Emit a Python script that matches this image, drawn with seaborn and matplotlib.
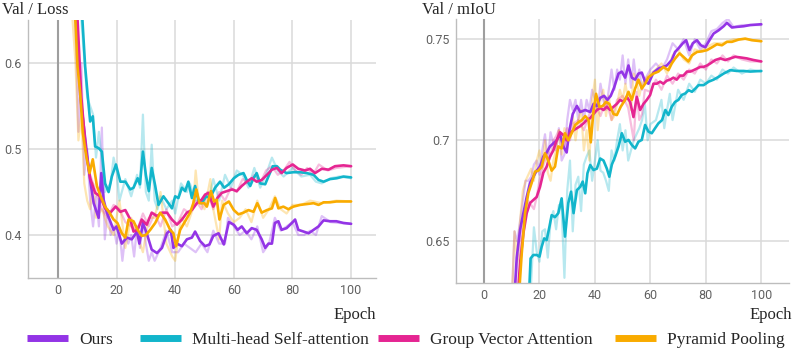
import matplotlib
matplotlib.use("Agg")
import matplotlib.pyplot as plt
from matplotlib.lines import Line2D
from matplotlib.ticker import FuncFormatter
import pandas as pd
import seaborn as sns

# 범례/시리즈 이름과 색상 (TensorBoard 기본 팔레트)
models = ["Ours", "Multi-head Self-attention", "Group Vector Attention", "Pyramid Pooling"]
colors = ["#9334e6", "#12b5cb", "#e52592", "#f9ab00"]

# ---- Val / Loss : smoothed (epoch, value) ----
loss_ours = [(5.5, 0.70), (6.7, 0.628), (7.6, 0.563), (9.9, 0.495), (11, 0.464), (12.2, 0.437), (13.9, 0.42),
             (14.8, 0.472), (15.6, 0.441), (16.7, 0.426), (19, 0.406), (20, 0.41), (21.8, 0.39), (23.5, 0.397),
             (25.2, 0.395), (27, 0.404), (27.8, 0.39), (29, 0.414), (30.3, 0.402), (32, 0.383), (33.8, 0.379),
             (35.5, 0.385), (37.2, 0.402), (38.5, 0.406), (39.4, 0.385), (40.6, 0.39), (42.3, 0.387), (44, 0.395),
             (45.7, 0.397), (46.8, 0.404), (48.5, 0.393), (50.2, 0.387), (51.7, 0.389), (53, 0.399), (54.8, 0.402),
             (56.6, 0.389), (58.3, 0.415), (60, 0.412), (61.3, 0.406), (62.7, 0.41), (64.4, 0.402), (66.1, 0.408),
             (67.8, 0.406), (69.5, 0.395), (70.7, 0.385), (71.8, 0.39), (73, 0.39), (74, 0.414), (75.2, 0.416),
             (76.3, 0.406), (78, 0.408), (79.8, 0.414), (80.9, 0.418), (82, 0.406), (83.8, 0.404), (85.5, 0.402),
             (87.2, 0.406), (88.9, 0.41), (90.6, 0.417), (92.8, 0.416), (95, 0.416), (97.4, 0.414), (100, 0.413)]
loss_mhsa = [(7.5, 0.70), (9.3, 0.596), (10.1, 0.565), (11, 0.532), (11.9, 0.538), (12.7, 0.503), (13.9, 0.501),
             (15, 0.497), (16.1, 0.46), (17.3, 0.45), (18.4, 0.468), (19.8, 0.482), (21.3, 0.462), (23, 0.462),
             (24.7, 0.453), (25.8, 0.455), (27.2, 0.466), (28, 0.459), (29, 0.497), (30, 0.47), (31, 0.451),
             (32, 0.478), (33.2, 0.457), (34.3, 0.435), (36, 0.445), (37.7, 0.437), (38.9, 0.431), (40, 0.445),
             (41.1, 0.443), (42.3, 0.455), (43.4, 0.451), (44.5, 0.462), (45.7, 0.443), (46.8, 0.457), (48, 0.439),
             (49, 0.437), (50.6, 0.445), (51.9, 0.443), (53.6, 0.455), (55.3, 0.462), (56.7, 0.455), (58.3, 0.459),
             (60, 0.466), (61.6, 0.47), (63.3, 0.472), (64.4, 0.464), (65.6, 0.457), (66.7, 0.466), (67.8, 0.472),
             (69, 0.46), (70.7, 0.459), (71.8, 0.468), (73.3, 0.48), (74.7, 0.48), (75.8, 0.476), (78, 0.472),
             (80.3, 0.473), (82.6, 0.473), (84.9, 0.472), (87.2, 0.47), (88.9, 0.464), (90.6, 0.462), (92.8, 0.465),
             (95.1, 0.466), (97.4, 0.468), (100, 0.467)]
loss_gva = [(6, 0.70), (8, 0.56), (9.5, 0.50), (11, 0.466), (12.7, 0.449), (14.4, 0.445), (16.1, 0.431),
            (17.9, 0.426), (19.7, 0.433), (21.3, 0.427), (23, 0.429), (24.7, 0.418), (25.8, 0.404), (27.2, 0.406),
            (28.6, 0.418), (30.3, 0.412), (32, 0.426), (33.8, 0.422), (35.5, 0.426), (37.2, 0.426), (38.9, 0.418),
            (40.6, 0.412), (42.3, 0.418), (44, 0.426), (45.7, 0.429), (47.4, 0.437), (49, 0.441), (50.2, 0.447),
            (51.4, 0.449), (53, 0.433), (54.4, 0.443), (55.9, 0.449), (57.6, 0.451), (59.4, 0.453), (61, 0.451),
            (62.7, 0.457), (64.4, 0.462), (66.1, 0.466), (67.8, 0.462), (69.5, 0.464), (71.3, 0.47), (73, 0.476),
            (74.7, 0.478), (76.3, 0.472), (78, 0.478), (80.1, 0.482), (82, 0.477), (84.3, 0.475), (86, 0.477),
            (87.7, 0.472), (90, 0.477), (92.3, 0.476), (94.5, 0.48), (97.4, 0.481), (100, 0.48)]
loss_pp = [(5, 0.72), (6.7, 0.596), (7.6, 0.565), (8.5, 0.519), (9.7, 0.491), (10.8, 0.472), (11.9, 0.488),
           (13.3, 0.457), (14.6, 0.445), (16.1, 0.433), (17.6, 0.426), (19, 0.418), (20.3, 0.414), (21.8, 0.402),
           (23, 0.397), (24.1, 0.418), (25.8, 0.416), (27.2, 0.406), (28.6, 0.399), (30, 0.4), (31.5, 0.406),
           (33.2, 0.414), (34.9, 0.426), (36.6, 0.418), (38.3, 0.406), (39.4, 0.402), (40.3, 0.387), (41.7, 0.406),
           (43.4, 0.416), (45.1, 0.426), (46.2, 0.437), (47.2, 0.453), (48.3, 0.437), (49.9, 0.437), (50.8, 0.433),
           (52.2, 0.451), (53.3, 0.439), (54.2, 0.441), (55.1, 0.418), (56.5, 0.435), (58.3, 0.439), (60, 0.429),
           (61.6, 0.424), (63.3, 0.426), (65, 0.429), (66.7, 0.427), (68, 0.437), (69.5, 0.426), (71.3, 0.429),
           (73, 0.431), (74.1, 0.443), (75.2, 0.431), (76.9, 0.433), (78.6, 0.43), (80.3, 0.433), (82.6, 0.435),
           (84.9, 0.436), (87.2, 0.437), (88.9, 0.435), (90.6, 0.438), (92.8, 0.438), (95, 0.439), (97.4, 0.439),
           (100, 0.439)]

# ---- Val / Loss : raw (연한 선) ----
loss_ours_raw = [(5, 0.70), (6, 0.64), (7, 0.52), (8, 0.6), (9, 0.47), (10, 0.5), (11, 0.44), (12, 0.41), (13, 0.445),
                 (14, 0.41), (15, 0.525), (16, 0.395), (17, 0.43), (18, 0.4), (19, 0.41), (20, 0.39), (21, 0.405),
                 (22, 0.37), (23, 0.4), (24, 0.39), (25, 0.4), (26, 0.375), (27, 0.41), (28, 0.385), (29, 0.415),
                 (30, 0.39), (31, 0.37), (32, 0.38), (33, 0.37), (35, 0.385), (37, 0.405), (39, 0.38), (41, 0.38),
                 (43, 0.39), (45, 0.385), (47, 0.38), (49, 0.39), (51, 0.38), (53, 0.405), (55, 0.39), (57, 0.39),
                 (58, 0.42), (60, 0.41), (62, 0.4), (64, 0.405), (66, 0.395), (68, 0.41), (70, 0.38), (72, 0.39),
                 (74, 0.42), (76, 0.405), (78, 0.41), (80, 0.415), (82, 0.4), (84, 0.4), (86, 0.405), (88, 0.4),
                 (90, 0.422), (93, 0.415), (96, 0.414), (100, 0.413)]
loss_mhsa_raw = [(8, 0.65), (10, 0.56), (12, 0.54), (13, 0.49), (14, 0.52), (16, 0.45), (18, 0.46), (19, 0.49),
                 (20, 0.475), (21, 0.44), (23, 0.465), (25, 0.445), (27, 0.47), (28, 0.455), (29, 0.54), (30, 0.45),
                 (31, 0.44), (32, 0.505), (33, 0.44), (34, 0.43), (35, 0.445), (37, 0.43), (39, 0.44), (40, 0.425),
                 (42, 0.46), (44, 0.45), (45, 0.46), (47, 0.44), (49, 0.44), (51, 0.435), (53, 0.465), (55, 0.44),
                 (57, 0.47), (59, 0.455), (61, 0.475), (63, 0.47), (65, 0.455), (67, 0.478), (69, 0.455), (71, 0.47),
                 (73, 0.49), (75, 0.475), (77, 0.468), (80, 0.478), (83, 0.468), (86, 0.47), (88, 0.462), (90, 0.46),
                 (93, 0.466), (96, 0.468), (100, 0.466)]
loss_gva_raw = [(11, 0.47), (13, 0.45), (15, 0.43), (17, 0.42), (19, 0.435), (21, 0.43), (23, 0.415), (25, 0.41),
                (27, 0.405), (29, 0.425), (31, 0.41), (33, 0.425), (35, 0.41), (37, 0.43), (39, 0.41), (41, 0.415),
                (43, 0.43), (45, 0.425), (47, 0.44), (49, 0.43), (51, 0.45), (53, 0.43), (55, 0.45), (57, 0.44),
                (59, 0.455), (61, 0.45), (63, 0.465), (65, 0.46), (67, 0.47), (69, 0.46), (71, 0.475), (73, 0.48),
                (75, 0.47), (77, 0.475), (79, 0.485), (81, 0.475), (83, 0.47), (85, 0.478), (87, 0.47), (89, 0.482),
                (92, 0.475), (95, 0.478), (100, 0.48)]
loss_pp_raw = [(5, 0.65), (6, 0.6), (7, 0.51), (8, 0.54), (9, 0.46), (10, 0.44), (11, 0.43), (12, 0.46), (13, 0.42),
               (15, 0.43), (17, 0.41), (19, 0.4), (21, 0.44), (23, 0.385), (25, 0.42), (27, 0.4), (29, 0.38),
               (31, 0.42), (33, 0.42), (35, 0.45), (37, 0.39), (39, 0.375), (40, 0.37), (42, 0.42), (44, 0.41),
               (46, 0.43), (47, 0.475), (48, 0.44), (50, 0.43), (52, 0.465), (53, 0.43), (55, 0.395), (56, 0.44),
               (58, 0.425), (60, 0.415), (62, 0.42), (64, 0.43), (66, 0.415), (68, 0.44), (70, 0.42), (72, 0.43),
               (74, 0.445), (76, 0.43), (78, 0.425), (80, 0.435), (83, 0.435), (86, 0.44), (90, 0.437), (95, 0.44),
               (100, 0.439)]

# ---- Val / mIoU : smoothed ----
miou_ours = [(10, 0.60), (11.8, 0.642), (13, 0.6557), (14.2, 0.664), (15.4, 0.672), (16.6, 0.679), (17.8, 0.682),
             (19, 0.685), (20.2, 0.687), (21.4, 0.692), (22.6, 0.694), (23.8, 0.697), (25, 0.6985), (26.2, 0.70),
             (27.4, 0.703), (28.6, 0.697), (29.8, 0.694), (30.8, 0.705), (32, 0.713), (33.5, 0.717), (34.7, 0.714),
             (36.5, 0.715), (38.3, 0.714), (39.5, 0.718), (40.7, 0.717), (41.9, 0.721), (43.3, 0.722), (44.5, 0.72),
             (45.7, 0.722), (46.9, 0.726), (48.5, 0.733), (49.7, 0.734), (50.9, 0.731), (52.1, 0.737), (53.3, 0.731),
             (54.5, 0.73), (55.7, 0.733), (56.9, 0.7335), (58.1, 0.729), (59.3, 0.728), (61.1, 0.7335),
             (62.9, 0.7355), (64.7, 0.7363), (65.9, 0.737), (67.7, 0.7397), (68.9, 0.7437), (70.1, 0.7454),
             (71.7, 0.748), (72.9, 0.7495), (74.1, 0.7446), (75.3, 0.748), (76.8, 0.7495), (78.2, 0.747),
             (79.8, 0.746), (81.3, 0.7495), (82.8, 0.7528), (84.6, 0.7544), (86.4, 0.7564), (87.6, 0.7581),
             (89.4, 0.7558), (91.2, 0.7561), (93.6, 0.7564), (96, 0.757), (100, 0.7574)]
miou_mhsa = [(15.5, 0.60), (16.8, 0.6416), (17.8, 0.6433), (19, 0.6433), (20, 0.6425), (20.8, 0.6474),
             (21.7, 0.6515), (22.6, 0.6507), (23.6, 0.6573), (24.4, 0.663), (25.6, 0.662), (26.8, 0.664),
             (28, 0.6713), (29.2, 0.6524), (30.4, 0.669), (31.4, 0.6746), (32.3, 0.664), (33.5, 0.6754),
             (34.7, 0.677), (35.6, 0.6796), (36.5, 0.6738), (37.3, 0.6837), (38.3, 0.6878), (39.5, 0.6853),
             (40.7, 0.686), (41.9, 0.691), (43.1, 0.690), (44.3, 0.686), (45.2, 0.682), (46.1, 0.688), (47.3, 0.692),
             (48.5, 0.6969), (49.7, 0.7035), (50.9, 0.6993), (52.1, 0.7002), (53.3, 0.6977), (54.5, 0.696),
             (55.7, 0.6993), (56.9, 0.7002), (58.1, 0.7076), (59.3, 0.7043), (60.5, 0.7035), (61.7, 0.706),
             (62.9, 0.7084), (64.2, 0.71), (65.4, 0.715), (66.5, 0.7125), (67.7, 0.7166), (68.9, 0.719),
             (70.1, 0.72), (71.3, 0.7224), (72.6, 0.7232), (73.8, 0.7248), (75, 0.724), (76.2, 0.7256),
             (77.4, 0.7273), (79.2, 0.7273), (81, 0.729), (82.8, 0.730), (84.6, 0.7314), (86.4, 0.733),
             (88.8, 0.7347), (91.2, 0.7343), (93.6, 0.7343), (96, 0.734), (100, 0.7343)]
miou_gva = [(11, 0.60), (13, 0.6392), (14.2, 0.654), (15.4, 0.664), (16.6, 0.669), (17.8, 0.6705), (19, 0.672),
            (20.2, 0.677), (21.4, 0.684), (22.6, 0.687), (23.8, 0.692), (25, 0.695), (26.2, 0.70), (27.4, 0.704),
            (28.6, 0.7026), (29.8, 0.70), (31, 0.7035), (32.3, 0.705), (33.5, 0.706), (34.7, 0.707), (35.9, 0.7084),
            (37, 0.71), (38.3, 0.711), (39.5, 0.713), (40.7, 0.715), (41.9, 0.716), (43.1, 0.715), (44.3, 0.7166),
            (45.5, 0.715), (46.7, 0.7166), (47.9, 0.718), (49.1, 0.72), (50.3, 0.719), (51.5, 0.7215),
            (52.7, 0.719), (53.9, 0.7115), (55.1, 0.7215), (56.3, 0.715), (57.5, 0.718), (58.7, 0.72),
            (59.9, 0.7224), (61.1, 0.728), (62.3, 0.728), (63.5, 0.729), (64.7, 0.728), (65.9, 0.7295),
            (67.1, 0.730), (68.3, 0.731), (69.5, 0.730), (70.7, 0.732), (71.9, 0.732), (73.2, 0.734), (74.4, 0.734),
            (75.6, 0.7347), (76.8, 0.7355), (78, 0.7363), (79.2, 0.7363), (80.4, 0.737), (81.6, 0.738),
            (83.4, 0.7397), (85.2, 0.7405), (87, 0.7397), (88.8, 0.7405), (90.6, 0.7413), (92.4, 0.741),
            (94.8, 0.7405), (97.2, 0.7397), (100, 0.739)]
miou_pp = [(11.5, 0.60), (13.6, 0.644), (14.8, 0.664), (16, 0.674), (17.2, 0.679), (18.4, 0.6845), (19.6, 0.685),
           (20.8, 0.687), (22, 0.6936), (23.2, 0.69), (24.4, 0.685), (25.6, 0.687), (26.8, 0.697), (28, 0.696),
           (29.2, 0.7035), (30.4, 0.700), (31.6, 0.7035), (32.9, 0.7076), (34.1, 0.709), (35.3, 0.71), (36.5, 0.712),
           (37.7, 0.71), (38.5, 0.699), (39.5, 0.7147), (40.4, 0.723), (41.6, 0.7165), (42.8, 0.717), (44, 0.719),
           (45.2, 0.718), (46.7, 0.713), (47.9, 0.7125), (49.3, 0.7166), (50.9, 0.72), (52.1, 0.724), (53.3, 0.72),
           (54.5, 0.7256), (55.7, 0.73), (56.9, 0.7256), (58.1, 0.728), (59.3, 0.7312), (61.1, 0.733),
           (62.9, 0.734), (64.7, 0.7363), (66.5, 0.7347), (67.7, 0.738), (68.9, 0.7404), (70.5, 0.743),
           (71.9, 0.7413), (73.7, 0.739), (75, 0.742), (76.8, 0.7437), (78.6, 0.744), (80.4, 0.7446), (82.2, 0.746),
           (84, 0.7475), (85.8, 0.747), (87.6, 0.7487), (89.4, 0.7487), (91.8, 0.7498), (94.2, 0.7503),
           (96.6, 0.7495), (100, 0.749)]

# ---- Val / mIoU : raw ----
miou_ours_raw = [(10, 0.62), (11, 0.655), (12, 0.65), (13, 0.66), (14, 0.67), (15, 0.68), (16, 0.68), (17, 0.682),
                 (18, 0.688), (19, 0.69), (20, 0.683), (21, 0.695), (22, 0.703), (23, 0.69), (24, 0.704), (25, 0.698),
                 (26, 0.695), (27, 0.706), (28, 0.69), (29, 0.693), (30, 0.71), (31, 0.72), (32, 0.715), (33, 0.72),
                 (34, 0.71), (35, 0.72), (36, 0.71), (37, 0.72), (38, 0.715), (39, 0.725), (40, 0.72), (41, 0.715),
                 (42, 0.728), (43, 0.72), (44, 0.715), (45, 0.725), (46, 0.735), (47, 0.725), (48, 0.735), (49, 0.73),
                 (50, 0.742), (51, 0.728), (52, 0.74), (53, 0.726), (54, 0.74), (55, 0.728), (56, 0.735),
                 (57, 0.725), (58, 0.73), (60, 0.735), (62, 0.738), (64, 0.735), (66, 0.74), (68, 0.748),
                 (70, 0.745), (72, 0.75), (74, 0.742), (76, 0.75), (78, 0.745), (80, 0.748), (82, 0.754),
                 (84, 0.755), (86, 0.758), (88, 0.76), (90, 0.756), (93, 0.757), (96, 0.757), (100, 0.757)]
miou_mhsa_raw = [(16, 0.62), (17, 0.63), (18, 0.657), (19, 0.645), (20, 0.64), (21, 0.655), (22, 0.656),
                 (23, 0.642), (24, 0.66), (25, 0.665), (26, 0.656), (27, 0.668), (28, 0.666), (29, 0.632),
                 (30, 0.675), (31, 0.69), (32, 0.655), (33, 0.678), (34, 0.682), (35, 0.665), (36, 0.688),
                 (37, 0.692), (38, 0.695), (39, 0.68), (40, 0.69), (41, 0.70), (42, 0.685), (43, 0.684), (44, 0.68),
                 (45, 0.675), (46, 0.695), (47, 0.69), (48, 0.70), (49, 0.708), (50, 0.695), (51, 0.705), (52, 0.69),
                 (53, 0.695), (54, 0.70), (56, 0.706), (57, 0.71), (58, 0.718), (59, 0.70), (60, 0.708), (62, 0.71),
                 (64, 0.72), (65, 0.706), (66, 0.715), (67, 0.723), (68, 0.71), (70, 0.725), (72, 0.72), (74, 0.728),
                 (76, 0.724), (78, 0.73), (80, 0.728), (82, 0.732), (84, 0.73), (86, 0.735), (88, 0.733),
                 (90, 0.736), (93, 0.733), (96, 0.735), (100, 0.734)]
miou_gva_raw = [(11, 0.62), (12, 0.64), (13, 0.645), (14, 0.66), (15, 0.665), (16, 0.67), (17, 0.668), (18, 0.666),
                (19, 0.672), (20, 0.68), (21, 0.686), (22, 0.69), (23, 0.695), (24, 0.692), (25, 0.70), (26, 0.702),
                (27, 0.705), (28, 0.70), (29, 0.697), (30, 0.706), (31, 0.70), (32, 0.708), (34, 0.71), (36, 0.705),
                (38, 0.713), (40, 0.718), (42, 0.712), (44, 0.72), (46, 0.71), (48, 0.72), (50, 0.722), (52, 0.716),
                (53, 0.708), (54, 0.70), (55, 0.724), (56, 0.71), (57, 0.713), (58, 0.725), (60, 0.724), (62, 0.73),
                (64, 0.725), (66, 0.732), (68, 0.728), (70, 0.733), (72, 0.73), (74, 0.735), (76, 0.733),
                (78, 0.738), (80, 0.735), (82, 0.74), (84, 0.738), (86, 0.742), (88, 0.739), (90, 0.742),
                (93, 0.74), (96, 0.739), (100, 0.739)]
miou_pp_raw = [(10, 0.62), (11, 0.655), (12, 0.64), (13, 0.66), (14, 0.675), (15, 0.68), (16, 0.683), (17, 0.686),
               (18, 0.68), (19, 0.69), (20, 0.695), (21, 0.686), (22, 0.70), (23, 0.684), (24, 0.68), (25, 0.69),
               (26, 0.695), (27, 0.705), (28, 0.693), (29, 0.706), (30, 0.70), (31, 0.706), (32, 0.712), (33, 0.70),
               (34, 0.71), (35, 0.715), (36, 0.695), (37, 0.705), (38, 0.69), (39, 0.72), (40, 0.73), (41, 0.705),
               (42, 0.72), (43, 0.725), (44, 0.712), (45, 0.722), (46, 0.71), (47, 0.712), (48, 0.718), (49, 0.725),
               (50, 0.72), (51, 0.728), (52, 0.72), (53, 0.715), (54, 0.733), (55, 0.73), (56, 0.722), (57, 0.728),
               (58, 0.73), (60, 0.733), (62, 0.735), (64, 0.738), (66, 0.733), (68, 0.742), (70, 0.745),
               (72, 0.74), (74, 0.738), (76, 0.745), (78, 0.744), (80, 0.746), (83, 0.748), (86, 0.748),
               (90, 0.75), (95, 0.75), (100, 0.749)]

SERIF = ["Liberation Serif", "DejaVu Serif"]
SANS = ["Roboto", "DejaVu Sans"]
GRID = "#dadada"
TICK = "#616161"


def to_frame(series_list):
    rows = []
    for name, pts in zip(models, series_list):
        for ep, val in pts:
            rows.append({"epoch": ep, "value": val, "model": name})
    return pd.DataFrame(rows)


def draw_panel(ax, smooth, raw, ylim, yticks, xlim):
    palette = dict(zip(models, colors))
    sns.lineplot(data=to_frame(raw), x="epoch", y="value", hue="model", palette=palette,
                 estimator=None, sort=False, linewidth=1.6, alpha=0.3, legend=False, ax=ax)
    sns.lineplot(data=to_frame(smooth), x="epoch", y="value", hue="model", palette=palette,
                 estimator=None, sort=False, linewidth=1.9, legend=False, ax=ax)
    ax.set_xlim(*xlim)
    ax.set_ylim(*ylim)
    ax.set_xticks([0, 20, 40, 60, 80, 100])
    ax.set_yticks(yticks)
    ax.yaxis.set_major_formatter(FuncFormatter(lambda v, _: f"{v:g}"))
    ax.grid(True, color=GRID, linewidth=1.1)
    ax.set_axisbelow(True)
    ax.axvline(0, color="#9e9e9e", linewidth=1.5, zorder=1)
    for side in ["top", "right"]:
        ax.spines[side].set_visible(False)
    for side in ["left", "bottom"]:
        ax.spines[side].set_color("#bdbdbd")
        ax.spines[side].set_linewidth(1.0)
    ax.tick_params(length=0, labelsize=9, labelcolor=TICK, pad=4.5)
    for lab in ax.get_xticklabels() + ax.get_yticklabels():
        lab.set_family(SANS)
    ax.set_ylabel("")
    ax.set_xlabel("")


sns.set_style("white")
plt.rcParams["font.family"] = SERIF

fig = plt.figure(figsize=(7.97, 3.49), dpi=100)
ax1 = fig.add_axes([0.0351, 0.2034, 0.4367, 0.7393])
ax2 = fig.add_axes([0.5718, 0.19, 0.4182, 0.7556])

draw_panel(ax1, [loss_ours, loss_mhsa, loss_gva, loss_pp],
           [loss_ours_raw, loss_mhsa_raw, loss_gva_raw, loss_pp_raw],
           (0.35, 0.65), [0.4, 0.5, 0.6], (-10.2, 108.5))
draw_panel(ax2, [miou_ours, miou_mhsa, miou_gva, miou_pp],
           [miou_ours_raw, miou_mhsa_raw, miou_gva_raw, miou_pp_raw],
           (0.6296, 0.76), [0.65, 0.7, 0.75], (-10.2, 110))

fig.text(0.002, 0.995, "Val / Loss", ha="left", va="top", family=SERIF, fontsize=12)
fig.text(0.529, 0.995, "Val / mIoU", ha="left", va="top", family=SERIF, fontsize=12)
fig.text(0.4712, 0.0974, "Epoch", ha="right", va="center", family=SERIF, fontsize=12)
fig.text(0.9937, 0.0974, "Epoch", ha="right", va="center", family=SERIF, fontsize=12)

# 범례 항목 간격이 일정하지 않아 항목별로 위치 지정
legend_x = [0.0339, 0.1757, 0.4743, 0.7716]
for name, color, lx in zip(models, colors, legend_x):
    handle = Line2D([0], [0], color=color, linewidth=5, solid_capstyle="butt")
    fig.legend([handle], [name], loc="center left", bbox_to_anchor=(lx, 0.025), frameon=False,
               prop={"family": SERIF, "size": 12.5}, handlelength=2.36, handletextpad=0.63,
               borderpad=0, borderaxespad=0)

fig.savefig("out.png", dpi=100)
